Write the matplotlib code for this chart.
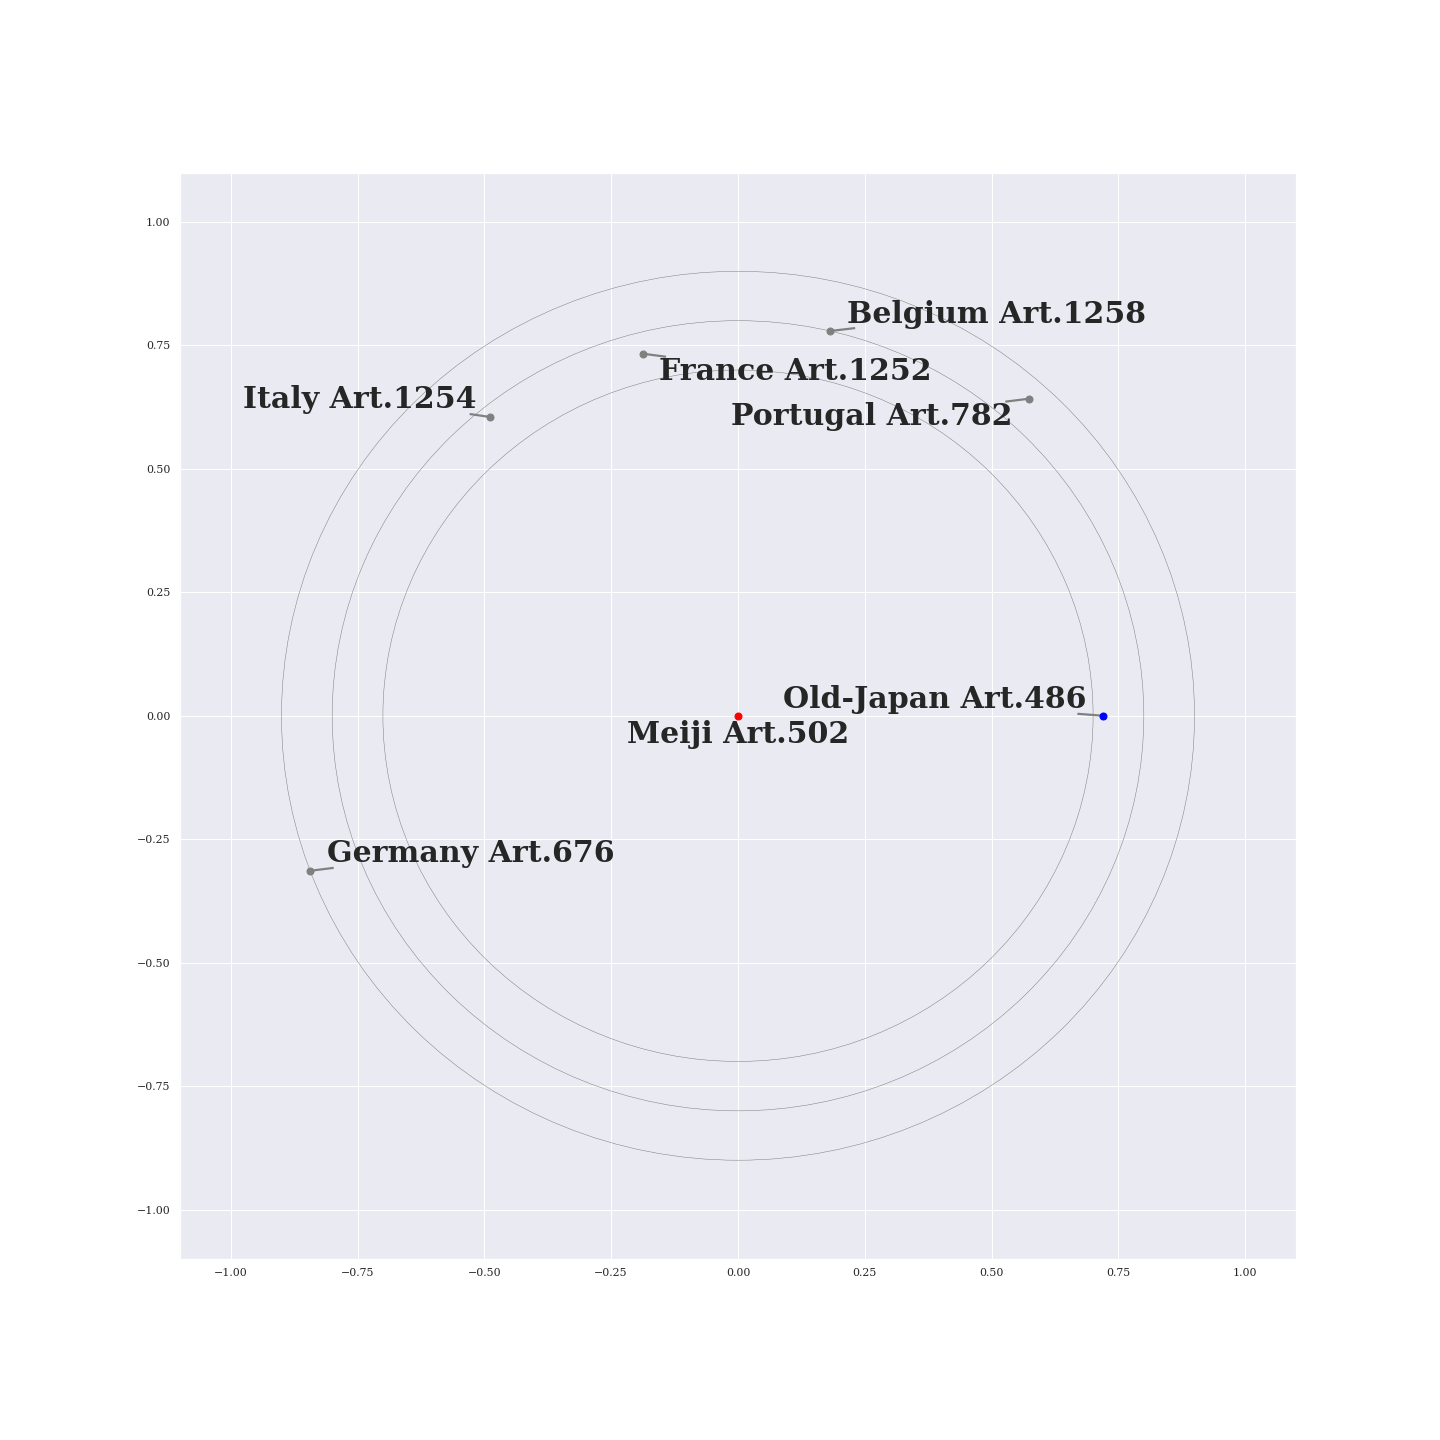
import matplotlib
matplotlib.use("Agg")
import matplotlib.pyplot as plt
import seaborn as sns
from matplotlib.patches import Circle

sns.set_theme(style="darkgrid")
plt.rcParams['font.family'] = ['DejaVu Serif']

names = ["Meiji Art.502", "Old-Japan Art.486", "Belgium Art.1258", "France Art.1252",
         "Italy Art.1254", "Portugal Art.782", "Germany Art.676"]
xs = [0.0, 0.72, 0.181, -0.187, -0.489, 0.574, -0.844]
ys = [0.0, 0.0, 0.779, 0.733, 0.605, 0.642, -0.314]
colors = ["red", "blue", "grey", "grey", "grey", "grey", "grey"]
label_x = [-0.219, 0.089, 0.215, -0.156, -0.976, -0.014, -0.811]
label_y = [-0.055, 0.016, 0.796, 0.680, 0.623, 0.589, -0.296]
# end points of the leader lines (None = no leader line)
line_end_x = [None, 0.669, 0.231, -0.142, -0.529, 0.527, -0.797]
line_end_y = [None, 0.004, 0.785, 0.727, 0.611, 0.636, -0.308]
radii = [0.7, 0.8, 0.9]

fig = plt.figure(figsize=(20, 20), dpi=72)
ax = fig.add_axes([0.125, 0.1257, 0.775, 0.7545])

for r in radii:
    ax.add_patch(Circle((0, 0), r, fill=False, edgecolor="grey", lw=0.5))

for x, y, ex, ey in zip(xs, ys, line_end_x, line_end_y):
    if ex is not None:
        ax.plot([x, ex], [y, ey], "-", color="grey", lw=2.2, solid_capstyle="butt")

for x, y, c in zip(xs, ys, colors):
    ax.plot([x], [y], "o", color=c, markersize=7)

for name, lx, ly in zip(names, label_x, label_y):
    ax.text(lx, ly, name, fontsize=30, fontweight="bold", ha="left", va="baseline",
            color="#262626")

ax.set_xlim(-1.1, 1.1)
ax.set_ylim(-1.1, 1.1)
ax.set_xticks([-1, -0.75, -0.5, -0.25, 0, 0.25, 0.5, 0.75, 1])
ax.set_yticks([-1, -0.75, -0.5, -0.25, 0, 0.25, 0.5, 0.75, 1])
ax.tick_params(labelsize=11)
fig.savefig("out.png", dpi=72)
